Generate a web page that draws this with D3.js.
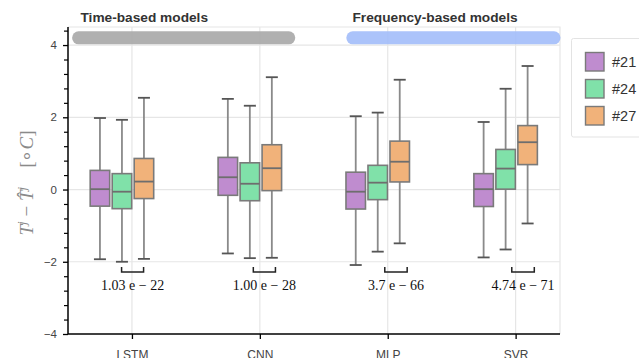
<!DOCTYPE html>
<meta charset="utf-8">
<style>
  body { margin: 0; background: #fff; }
  svg text { font-family: "Liberation Sans", Helvetica, Arial, sans-serif; }
</style>
<script src="https://d3js.org/d3.v7.min.js"></script>
<div id="chart"></div>
<script>

// categories and series
var models = ["LSTM", "CNN", "MLP", "SVR"];
var series = ["#21", "#24", "#27"];
var colors = ["#bf8ccf", "#80e1a9", "#f1b27a"];

// box stats per series, one entry per model: [lowCap, q1, median, q3, highCap]
var stats21 = [[-1.93, -0.46, 0.01, 0.53, 1.98], [-1.77, -0.16, 0.34, 0.89, 2.51],
               [-2.09, -0.54, -0.06, 0.48, 2.03], [-1.88, -0.47, 0.01, 0.44, 1.87]];
var stats24 = [[-2.00, -0.53, -0.06, 0.44, 1.93], [-1.90, -0.31, 0.16, 0.74, 2.32],
               [-1.72, -0.28, 0.19, 0.67, 2.13], [-1.66, 0.01, 0.58, 1.11, 2.79]];
var stats27 = [[-1.92, -0.25, 0.22, 0.86, 2.54], [-1.89, -0.03, 0.59, 1.24, 3.11],
               [-1.49, 0.21, 0.77, 1.34, 3.04], [-0.94, 0.69, 1.31, 1.77, 3.42]];

// p-values between #24 and #27, bracket spans in category units
var pLabels = ["1.03 e \u2212 22", "1.00 e \u2212 28", "3.7 e \u2212 66", "4.74 e \u2212 71"];
var bracketFrom = [-0.081, 0.949, 1.977, 2.970];
var bracketTo = [0.091, 1.122, 2.152, 3.146];

// model families (span in category units)
var families = ["Time-based models", "Frequency-based models"];
var familyFrom = [-0.464, 1.68];
var familyTo = [1.273, 3.347];
var familyColors = ["#aaaaaa", "#a4befa"];

var yTicks = [-4, -2, 0, 2, 4];

var W = 639, H = 358;
var pLeft = 68, pRight = 560, pTop = 27, pBottom = 334;

var svg = d3.select("#chart").append("svg")
  .attr("width", W).attr("height", H);

var x = d3.scaleLinear().domain([-0.5, 3.347]).range([pLeft, pRight]);
var y = d3.scaleLinear().domain([-4, 4.5]).range([pBottom, pTop]);

// grid
svg.append("g").selectAll("line").data(yTicks.filter(function(d) { return d > -4; }))
  .enter().append("line")
    .attr("x1", pLeft).attr("x2", pRight)
    .attr("y1", function(d) { return y(d); }).attr("y2", function(d) { return y(d); })
    .attr("stroke", "#e6e6e6").attr("stroke-width", 1.2);
svg.append("g").selectAll("line").data(d3.range(models.length))
  .enter().append("line")
    .attr("x1", function(d) { return x(d); }).attr("x2", function(d) { return x(d); })
    .attr("y1", pTop).attr("y2", pBottom)
    .attr("stroke", "#e6e6e6").attr("stroke-width", 1.2);
// light frame top/right
svg.append("path")
  .attr("d", "M" + pLeft + "," + pTop + "H" + pRight + "V" + pBottom)
  .attr("fill", "none").attr("stroke", "#e6e6e6").attr("stroke-width", 1.2);

// family bars and titles
families.forEach(function(f, i) {
  svg.append("line")
    .attr("x1", x(familyFrom[i]) + 6).attr("x2", x(familyTo[i]) - 6)
    .attr("y1", y(4.2)).attr("y2", y(4.2))
    .attr("stroke", familyColors[i]).attr("stroke-width", 13)
    .attr("stroke-linecap", "round").attr("opacity", 0.92);
});
svg.append("text").attr("x", 80.5).attr("y", 22)
  .attr("font-size", 13.7).attr("font-weight", "bold").attr("fill", "#333")
  .text(families[0]);
svg.append("text").attr("x", 352.5).attr("y", 22)
  .attr("font-size", 13.7).attr("font-weight", "bold").attr("fill", "#333")
  .text(families[1]);

// boxes
var allStats = [stats21, stats24, stats27];
var boxW = 19.5, capW = 12, boxStep = 22, groupShift = -10;

allStats.forEach(function(st, k) {
  var g = svg.append("g");
  st.forEach(function(s, i) {
    var cx = x(i) + groupShift + (k - 1) * boxStep;
    // whiskers
    g.append("line").attr("x1", cx).attr("x2", cx)
      .attr("y1", y(s[4])).attr("y2", y(s[3]))
      .attr("stroke", "#8a8a8a").attr("stroke-width", 1.8);
    g.append("line").attr("x1", cx).attr("x2", cx)
      .attr("y1", y(s[1])).attr("y2", y(s[0]))
      .attr("stroke", "#8a8a8a").attr("stroke-width", 1.8);
    g.append("line").attr("x1", cx - capW / 2).attr("x2", cx + capW / 2)
      .attr("y1", y(s[4])).attr("y2", y(s[4]))
      .attr("stroke", "#555").attr("stroke-width", 1.8);
    g.append("line").attr("x1", cx - capW / 2).attr("x2", cx + capW / 2)
      .attr("y1", y(s[0])).attr("y2", y(s[0]))
      .attr("stroke", "#555").attr("stroke-width", 1.8);
    // box
    g.append("rect")
      .attr("x", cx - boxW / 2).attr("width", boxW)
      .attr("y", y(s[3])).attr("height", y(s[1]) - y(s[3]))
      .attr("fill", colors[k]).attr("stroke", "#7a7a7a").attr("stroke-width", 1.6);
    g.append("line").attr("x1", cx - boxW / 2).attr("x2", cx + boxW / 2)
      .attr("y1", y(s[2])).attr("y2", y(s[2]))
      .attr("stroke", "#6e6e6e").attr("stroke-width", 1.8);
  });
});

// significance brackets
pLabels.forEach(function(p, i) {
  var x0 = x(bracketFrom[i]), x1 = x(bracketTo[i]), yb = y(-2.28);
  svg.append("path")
    .attr("d", "M" + x0 + "," + (yb - 5) + "V" + yb + "H" + x1 + "V" + (yb - 5))
    .attr("fill", "none").attr("stroke", "#222").attr("stroke-width", 1.5);
  svg.append("text")
    .attr("x", (x0 + x1) / 2).attr("y", 290)
    .attr("text-anchor", "middle")
    .style("font-family", "'Liberation Serif', 'Times New Roman', serif")
    .attr("font-size", 14).attr("fill", "#111")
    .text(p);
});

// axes
var yAxis = d3.axisLeft(y).tickValues(yTicks).tickSize(5).tickPadding(6)
  .tickFormat(d3.format("d"));
var yMinor = d3.axisLeft(y).tickValues(d3.range(-3.6, 4.41, 0.4).filter(function(d) {
    return Math.abs(d / 2 - Math.round(d / 2)) > 0.01; }))
  .tickSize(4).tickFormat("");

var gm = svg.append("g").attr("transform", "translate(" + pLeft + ",0)").call(yMinor);
gm.select(".domain").remove();
gm.selectAll("line").attr("stroke", "#000").attr("stroke-width", 1.2);

var gy = svg.append("g").attr("transform", "translate(" + pLeft + ",0)").call(yAxis);
gy.select(".domain").attr("d", "M0," + pTop + "V" + pBottom).attr("stroke", "#000").attr("stroke-width", 1.5);
gy.selectAll("line").attr("stroke", "#000").attr("stroke-width", 1.3);
gy.selectAll("text").attr("font-size", 11.5).attr("fill", "#444")
  .style("font-family", "'Liberation Sans', Helvetica, Arial, sans-serif");

var xAxis = d3.axisBottom(x).tickValues(d3.range(models.length)).tickSize(5).tickPadding(11)
  .tickFormat(function(i) { return models[i]; });
var gx = svg.append("g").attr("transform", "translate(0," + pBottom + ")").call(xAxis);
gx.select(".domain").attr("d", "M" + pLeft + ",0H" + pRight).attr("stroke", "#000").attr("stroke-width", 1.5);
gx.selectAll("line").attr("stroke", "#000").attr("stroke-width", 1.3);
gx.selectAll("text").attr("font-size", 12).attr("fill", "#444")
  .style("font-family", "'Liberation Sans', Helvetica, Arial, sans-serif");

// y label
var yl = svg.append("text")
  .attr("transform", "translate(33," + 183 + ") rotate(-90)")
  .attr("text-anchor", "middle")
  .style("font-family", "'Liberation Serif', 'Times New Roman', serif")
  .attr("font-size", 19).attr("fill", "#8a8a8a");
yl.append("tspan").attr("font-style", "italic").text("T");
yl.append("tspan").attr("font-style", "italic").attr("font-size", 13).attr("dy", -7).text("j");
yl.append("tspan").attr("dy", 7).text(" \u2212 ");
yl.append("tspan").attr("font-style", "italic").text("T\u0302");
yl.append("tspan").attr("font-style", "italic").attr("font-size", 13).attr("dy", -7).text("j");
yl.append("tspan").attr("dy", 7).text("\u00a0\u00a0\u00a0\u00a0[\u2218");
yl.append("tspan").attr("font-style", "italic").text("C");
yl.append("tspan").text("]");

// legend
var lg = svg.append("g");
lg.append("rect").attr("x", 571.5).attr("y", 38.5).attr("width", 90).attr("height", 98.5)
  .attr("rx", 2).attr("fill", "#fff").attr("stroke", "#e3e3e3").attr("stroke-width", 1);
series.forEach(function(s, i) {
  lg.append("rect").attr("x", 585.5).attr("y", 52.5 + i * 27).attr("width", 18.5).attr("height", 18.5)
    .attr("fill", colors[i]).attr("stroke", "#7a7a7a").attr("stroke-width", 1.4);
  lg.append("text").attr("x", 612).attr("y", 67 + i * 27)
    .attr("font-size", 14.5).attr("fill", "#333").text(s);
});

</script>
